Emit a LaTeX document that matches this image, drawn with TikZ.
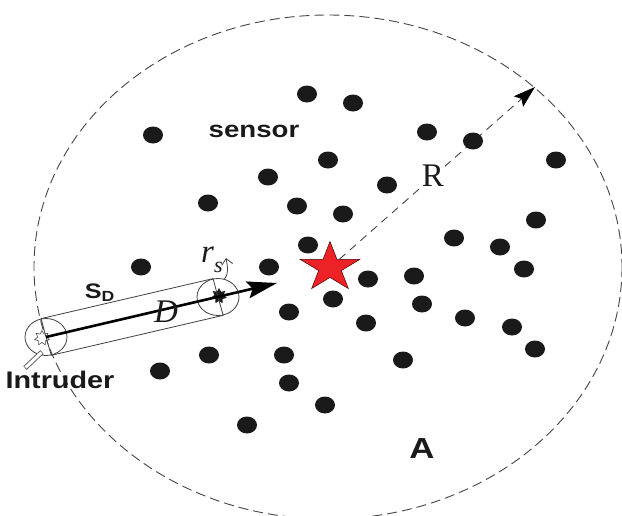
\documentclass[tikz,border=0pt]{standalone}
\usepackage{amsmath,amssymb}
\usepackage{xcolor}
\usepackage{fontspec}
\setmainfont{Liberation Serif}
\setsansfont{Liberation Sans}
\usepackage{tikz}
\usetikzlibrary{arrows.meta,shapes.geometric}
\definecolor{inkc}{HTML}{1A1A1A}
\definecolor{dashc}{HTML}{444444}
\definecolor{starc}{HTML}{ED2227}
\tikzset{
  sensordot/.style={ellipse, fill=inkc, minimum width=20pt, minimum height=17pt, inner sep=0pt},
  rangeedge/.style={ellipse, draw=black!75, minimum width=42pt, minimum height=37pt, inner sep=0pt, line width=0.8pt},
  tagtext/.style={font=\sffamily\bfseries\fontsize{#1}{#1}\selectfont, text=inkc, inner sep=0pt, xscale=1.2, transform shape},
  tubeline/.style={draw=black!75, line width=0.8pt}
}
\begin{document}
\begin{tikzpicture}[x=1pt, y=-1pt]
  \useasboundingbox (0,0) rectangle (622,515);
  \clip (0,0) rectangle (622,515);
  \draw[dashc, line width=0.9pt, dash pattern=on 10pt off 5pt] (328,267) ellipse [x radius=294, y radius=252];
  \node[star, star points=5, star point ratio=2.618, minimum size=52pt, inner sep=0pt, fill=starc, draw=black!70!red, line width=0.5pt, xscale=1.2, transform shape] (base) at (330,267.5) {};
  \coordinate (rtip) at (535,87);
  \draw[dashc, line width=0.9pt, dash pattern=on 8pt off 6pt, -{Stealth[length=22pt,width=14pt,inset=4pt,color=black]}] (base) -- (rtip);
  \node[fill=white, inner sep=1pt, text=inkc, font=\fontsize{33}{33}\selectfont] (rlabel) at (433,176) {R};
  \foreach \x/\y [count=\i] in {307/94,353/103,153/135,427/132,473/141,556/160,328/160,268/177,
      387/185,208/203,297/206,343/214,536/220,454/238,500/247,308/245,141/267,269/267,524/269,
      368/279,414/276,333/299,422/304,289/312,465/318,512/327,366/323,535/349,209/355,284/355,
      403/360,160/371,289/383,325/405,247/425}
    \node[sensordot] (s\i) at (\x,\y) {};
  \node[tagtext=23] (sensorlabel) at (254,131) {sensor};
  \node[tagtext=29] (arealabel) at (422,449) {A};
  \node[rangeedge] (intruder) at (46,337) {};
  \node[rangeedge] (detect) at (218,297) {};
  \node[star, star points=7, star point ratio=1.7, minimum size=15pt, inner sep=0pt, draw=black!70, fill=white, line width=0.6pt] (startstar) at (42,338) {};
  \node[star, star points=7, star point ratio=1.7, minimum size=16pt, inner sep=0pt, fill=inkc] (endstar) at (219,296) {};
  \draw[tubeline] (intruder.105) -- (detect.105);
  \draw[tubeline] (intruder.-74) -- (detect.-74);
  \draw[tubeline] (intruder.center) -- (intruder.105);
  \draw[tubeline] (intruder.center) -- (intruder.-74);
  \draw[tubeline] (detect.center) -- (detect.105);
  \draw[tubeline] (detect.center) -- (detect.-74);
  \coordinate (dtip) at (277,283);
  \draw[black, line width=2.6pt, -{Stealth[length=30pt,width=17pt,inset=5pt]}] (intruder.center) -- (dtip);
  \node[inner sep=0pt, text=inkc, font=\itshape\fontsize{33}{33}\selectfont] (dlabel) at (166,312) {D};
  \node[inner sep=0pt, anchor=base west, text=inkc, font=\itshape\fontsize{33}{33}\selectfont] (rslabel) at (201,262) {r\raisebox{-10pt}{\fontsize{22}{22}\selectfont s}};
  \coordinate (rsarc) at (226,258);
  \draw[black!75, line width=0.8pt, -{Straight Barb[length=6pt,width=11pt]}] (detect.70) to[out=55,in=-80] (rsarc);
  \node[tagtext=21] (sdlabel) at (100,293) {S\textsubscript{D}};
  \node[tagtext=24] (intruderlabel) at (60,380) {Intruder};
  \coordinate (pointer) at (25,368);
  \coordinate (pointerend) at (42,352);
  \draw[black!60, line width=5pt] (pointer) -- (pointerend);
  \draw[white, line width=3pt, shorten <=0.8pt, shorten >=0.8pt] (pointer) -- (pointerend);
\end{tikzpicture}
\end{document}
